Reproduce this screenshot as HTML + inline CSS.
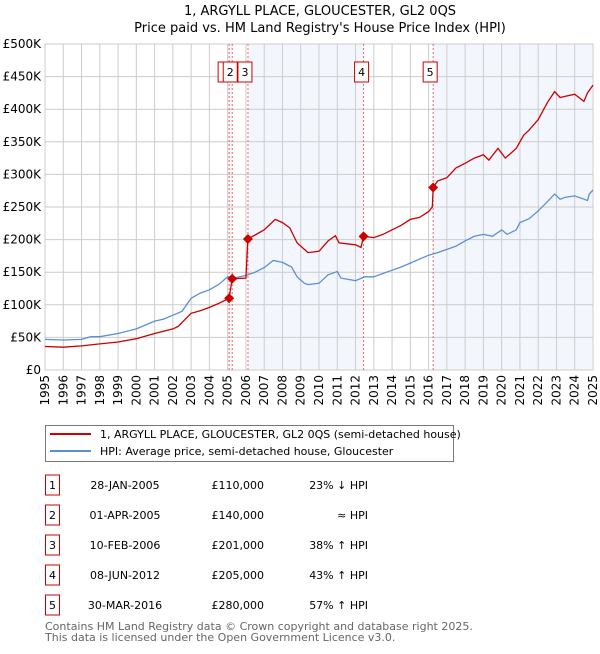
<!DOCTYPE html>
<html><head><meta charset="utf-8"><style>
body{margin:0;background:#fff;font-family:"DejaVu Sans","Liberation Sans",sans-serif;}
svg text{font-family:"DejaVu Sans","Liberation Sans",sans-serif;}
</style></head><body>
<svg id="chart" width="600" height="650" xmlns="http://www.w3.org/2000/svg">
<text x="320" y="15" text-anchor="middle" font-size="13">1, ARGYLL PLACE, GLOUCESTER, GL2 0QS</text>
<text x="320" y="32" text-anchor="middle" font-size="13">Price paid vs. HM Land Registry's House Price Index (HPI)</text>
<g id="plot"></g>
<g>
<rect x="45.5" y="425.5" width="408" height="36" fill="#fff" stroke="#777"/>
<line x1="50" y1="434" x2="91" y2="434" stroke="#cc0000" stroke-width="2"/>
<text x="100" y="438" font-size="11">1, ARGYLL PLACE, GLOUCESTER, GL2 0QS (semi-detached house)</text>
<line x1="50" y1="451" x2="91" y2="451" stroke="#5b8fd4" stroke-width="2"/>
<text x="100" y="455" font-size="11">HPI: Average price, semi-detached house, Gloucester</text>
</g>
<g id="table"></g>
<text x="45" y="630" font-size="11" fill="#666">Contains HM Land Registry data © Crown copyright and database right 2025.</text>
<text x="45" y="641" font-size="11" fill="#666">This data is licensed under the Open Government Licence v3.0.</text>
</svg>
<script>
const hpiYears=[1995,1996,1997,1997.5,1998,1999,2000,2000.5,2001,2001.5,2002,2002.5,2003,2003.5,2004,2004.5,2005,2005.5,2006,2006.5,2007,2007.5,2008,2008.5,2008.8,2009.2,2009.4,2010,2010.5,2011,2011.2,2012,2012.5,2013,2014,2014.5,2015,2016,2016.5,2017,2017.5,2018,2018.5,2019,2019.5,2020,2020.3,2020.8,2021,2021.5,2022,2022.5,2022.9,2023.2,2023.5,2024,2024.5,2024.7,2024.8,2025];
const hpiValues=[47,46,47,51,51,56,63,69,75,78,84,90,110,118,123,131,143,142,145,150,157,168,165,158,143,133,131,133,146,151,141,137,143,143,153,158,164,176,180,185,190,198,205,208,205,215,208,215,226,232,244,258,270,262,265,267,262,260,270,276];
const propYears=[1995,1996,1997,1998,1999,2000,2001,2002,2002.3,2003,2003.5,2004,2004.5,2005.08,2005.25,2006.0,2006.11,2006.5,2007,2007.6,2008,2008.4,2008.8,2009.2,2009.4,2010,2010.5,2010.9,2011.1,2012,2012.3,2012.44,2013,2013.5,2014,2014.5,2015,2015.5,2016,2016.2,2016.25,2016.5,2017,2017.5,2018,2018.5,2019,2019.3,2019.8,2020.2,2020.8,2021.2,2021.5,2022,2022.5,2022.9,2023.2,2023.5,2024,2024.5,2024.7,2025];
const propValues=[36,35,37,40,43,48,56,63,67,87,91,96,102,110,140,141,201,207,215,231,226,218,195,185,180,182,198,206,195,192,188,205,203,208,215,222,231,234,243,250,280,290,295,310,317,325,330,322,340,325,340,360,368,384,410,427,418,420,423,412,425,437];
const saleLabels=["1","2","3","4","5"];
const saleYears=[2005.08,2005.25,2006.11,2012.44,2016.25];
const saleValues=[110,140,201,205,280];
const saleDates=["28-JAN-2005","01-APR-2005","10-FEB-2006","08-JUN-2012","30-MAR-2016"];
const salePrices=["£110,000","£140,000","£201,000","£205,000","£280,000"];
const saleHpi=["23% ↓ HPI","≈ HPI","38% ↑ HPI","43% ↑ HPI","57% ↑ HPI"];
const yTicks=[0,50,100,150,200,250,300,350,400,450,500];
const yTickLabels=["£0","£50K","£100K","£150K","£200K","£250K","£300K","£350K","£400K","£450K","£500K"];
const xTicks=[1995,1996,1997,1998,1999,2000,2001,2002,2003,2004,2005,2006,2007,2008,2009,2010,2011,2012,2013,2014,2015,2016,2017,2018,2019,2020,2021,2022,2023,2024,2025];

const X0=45,X1=593,Y0=370,Y1=44;
const xs=y=>X0+(y-1995)/30*(X1-X0);
const ys=v=>Y0-v/500*(Y0-Y1);
const NS="http://www.w3.org/2000/svg";
const plot=document.getElementById('plot');
function mk(tag,attrs,parent,text){const e=document.createElementNS(NS,tag);for(const k in attrs)e.setAttribute(k,attrs[k]);if(text!==undefined)e.textContent=text;(parent||plot).appendChild(e);return e;}

const shadeFrom=[0,2,4];
for(const i of shadeFrom){
  const a=saleYears[i], b=(i+1<saleYears.length)?saleYears[i+1]:2025;
  const r=mk('rect',{x:xs(a),y:Y1,width:xs(b)-xs(a),height:Y0-Y1,fill:'#eef3fc',opacity:0.7});
  
  
}
xTicks.forEach(t=>{
  const l=mk('line',{x1:xs(t),x2:xs(t),y1:Y1,y2:Y0,stroke:'#ccc','stroke-width':1});
  
  
  const tx=mk('text',{x:0,y:0,'font-size':12,'text-anchor':'end',transform:`translate(${xs(t)+4},${Y0+5}) rotate(-90)`},plot,String(t));
  
  
});
yTicks.forEach((t,i)=>{
  const l=mk('line',{x1:X0,x2:X1,y1:ys(t),y2:ys(t),stroke:'#ccc','stroke-width':1});
  
  
  const tx=mk('text',{x:X0-4,y:ys(t)+4,'font-size':12,'text-anchor':'end'},plot,yTickLabels[i]);
  
  
});
const ax=mk('rect',{x:X0,y:Y1,width:X1-X0,height:Y0-Y1,fill:'none',stroke:'#ccc'});


saleYears.forEach((y,i)=>{
  const l=mk('line',{x1:xs(y),x2:xs(y),y1:Y1,y2:Y0,stroke:'#e66','stroke-width':1,'stroke-dasharray':'2,2'});
  
  
});
function path(xa,va){return xa.map((x,i)=>(i?'L':'M')+xs(x).toFixed(1)+','+ys(va[i]).toFixed(1)).join('');}
const hp=mk('path',{d:path(hpiYears,hpiValues),fill:'none',stroke:'#5b8fd4','stroke-width':1.3});


const pp=mk('path',{d:path(propYears,propValues),fill:'none',stroke:'#cc0000','stroke-width':1.3});


saleYears.forEach((y,i)=>{
  const cx=xs(y),cy=ys(saleValues[i]);
  const d=mk('path',{d:`M${cx},${cy-5}L${cx+5},${cy}L${cx},${cy+5}L${cx-5},${cy}Z`,fill:'#cc0000'});
  
  
});
const boxOff=[-4,-2,-3,-2,-3];
saleYears.forEach((y,i)=>{
  const cx=xs(y)+boxOff[i];
  const g=mk('g',{});
  
  
  mk('rect',{x:cx-7,y:62,width:14,height:20,fill:'#fff',stroke:'#cc0000'},g);
  mk('text',{x:cx,y:76,'font-size':11,'text-anchor':'middle'},g,saleLabels[i]);
});
const tb=document.getElementById('table');
saleLabels.forEach((s,i)=>{
  const y=485+i*30;
  const g=mk('g',{},tb);
  
  
  mk('rect',{x:45.5,y:y-10,width:14,height:20,fill:'#fff',stroke:'#cc0000'},g);
  mk('text',{x:52.5,y:y+4,'font-size':11,'text-anchor':'middle'},g,s);
  mk('text',{x:125,y:y+4,'font-size':11,'text-anchor':'middle'},g,saleDates[i]);
  mk('text',{x:264,y:y+4,'font-size':11,'text-anchor':'end'},g,salePrices[i]);
  mk('text',{x:368,y:y+4,'font-size':11,'text-anchor':'end'},g,saleHpi[i]);
});
</script>
</body></html>
